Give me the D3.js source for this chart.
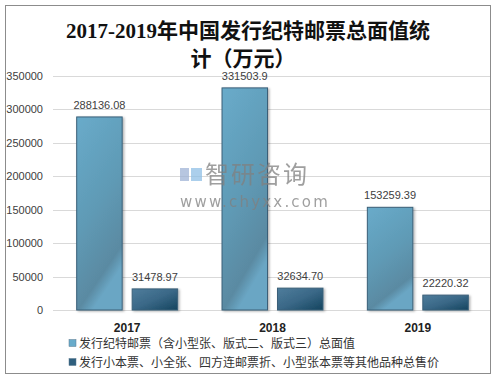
<!DOCTYPE html>
<html>
<head>
<meta charset="utf-8">
<script src="https://cdn.jsdelivr.net/npm/d3@7"></script>
<style>
  body { margin: 0; background: #fff; }
  svg { display: block; }
</style>
</head>
<body>
<svg width="496" height="378"></svg>
<script>
var years = ["2017", "2018", "2019"];
var seriesNames = [
  "发行纪特邮票（含小型张、版式二、版式三）总面值",
  "发行小本票、小全张、四方连邮票折、小型张本票等其他品种总售价"
];
var faceValue = [288136.08, 331503.9, 153259.39];
var otherValue = [31478.97, 32634.70, 22220.32];
var valueLabels = [["288136.08", "31478.97"], ["331503.9", "32634.70"], ["153259.39", "22220.32"]];
var yTicks = [0, 50000, 100000, 150000, 200000, 250000, 300000, 350000];

var svg = d3.select("svg");
var font = "'Liberation Sans', 'Noto Sans CJK SC', sans-serif";

// gradients + shadow
var defs = svg.append("defs");
var g1 = defs.append("linearGradient").attr("id", "gLight")
  .attr("x1", "0").attr("y1", "0").attr("x2", "0.35").attr("y2", "1");
g1.append("stop").attr("offset", "0").attr("stop-color", "#69abca");
g1.append("stop").attr("offset", "0.55").attr("stop-color", "#5f9ab5");
g1.append("stop").attr("offset", "0.9").attr("stop-color", "#5a8aa2");
g1.append("stop").attr("offset", "1").attr("stop-color", "#6aa6c4");
var g2 = defs.append("linearGradient").attr("id", "gDark")
  .attr("x1", "0").attr("y1", "0").attr("x2", "1").attr("y2", "1");
g2.append("stop").attr("offset", "0").attr("stop-color", "#4f7d9c");
g2.append("stop").attr("offset", "0.5").attr("stop-color", "#3a6887");
g2.append("stop").attr("offset", "1").attr("stop-color", "#14445e");
var f = defs.append("filter").attr("id", "shadow").attr("x", "-10%").attr("y", "-10%").attr("width", "130%").attr("height", "130%");
f.append("feDropShadow").attr("dx", 1.5).attr("dy", 1).attr("stdDeviation", 1.2)
  .attr("flood-color", "#000").attr("flood-opacity", 0.3);

// outer border
svg.append("rect").attr("x", 5.5).attr("y", 5.5).attr("width", 485).attr("height", 368)
  .attr("fill", "#fff").attr("stroke", "#8c8c8c").attr("stroke-width", 1);

// title
var title = svg.append("text")
  .attr("text-anchor", "middle")
  .attr("font-family", "'Liberation Serif', 'Noto Sans CJK SC', serif")
  .attr("font-weight", "bold").attr("font-size", 21).attr("fill", "#111");
title.append("tspan").attr("x", 248).attr("y", 38).text("2017-2019年中国发行纪特邮票总面值统");
title.append("tspan").attr("x", 243).attr("y", 66).text("计（万元）");

var x = d3.scaleBand().domain(years).range([54.5, 490.5]).paddingInner(0).paddingOuter(0);
var xs = d3.scaleBand().domain([0, 1]).range([0, x.bandwidth()]).paddingInner(0.18).paddingOuter(0.4);
var y = d3.scaleLinear().domain([0, 350000]).range([310, 75.5]);

// grid
svg.append("g").selectAll("line").data(yTicks).enter().append("line")
  .attr("x1", 53).attr("x2", 490)
  .attr("y1", function(d) { return Math.round(y(d)) + 0.5; })
  .attr("y2", function(d) { return Math.round(y(d)) + 0.5; })
  .attr("stroke", "#d9d9d9").attr("stroke-width", 1);

// y labels
svg.append("g").selectAll("text").data(yTicks).enter().append("text")
  .attr("x", 43).attr("y", function(d) { return y(d) + 4; })
  .attr("text-anchor", "end").attr("font-family", font).attr("font-size", 11)
  .attr("fill", "#404040").text(function(d) { return d; });

// bars
var data = years.map(function(yr, i) {
  return { year: yr, vals: [faceValue[i], otherValue[i]], labels: valueLabels[i] };
});
var groups = svg.append("g").selectAll("g").data(data).enter().append("g")
  .attr("transform", function(d) { return "translate(" + x(d.year) + ",0)"; });

var bars = groups.selectAll("g").data(function(d) {
  return d.vals.map(function(v, k) { return { k: k, v: v, label: d.labels[k] }; });
}).enter().append("g");

bars.append("rect")
  .attr("x", function(d) { return xs(d.k); })
  .attr("y", function(d) { return y(d.v); })
  .attr("width", xs.bandwidth())
  .attr("height", function(d) { return 310 - y(d.v); })
  .attr("fill", function(d) { return d.k === 0 ? "url(#gLight)" : "url(#gDark)"; })
  .attr("stroke", "#3b6079").attr("stroke-width", 1)
  .attr("filter", "url(#shadow)");

bars.append("text")
  .attr("x", function(d) { return xs(d.k) + xs.bandwidth() / 2; })
  .attr("y", function(d) { return y(d.v) - 8; })
  .attr("text-anchor", "middle").attr("font-family", font).attr("font-size", 11)
  .attr("fill", "#404040").text(function(d) { return d.label; });

// watermark (drawn over the bars)
var wm = svg.append("g").attr("opacity", 0.75);
wm.append("rect").attr("x", 180).attr("y", 168).attr("width", 9).attr("height", 13).attr("fill", "#9fb3d6");
wm.append("rect").attr("x", 191).attr("y", 168).attr("width", 11).attr("height", 13).attr("fill", "#8fc0e6");
wm.append("text").attr("x", 205).attr("y", 183).attr("font-family", "'Noto Sans CJK SC', sans-serif")
  .attr("font-size", 24).attr("fill", "#808080").attr("letter-spacing", 2).text("智研咨询");
wm.append("text").attr("x", 180).attr("y", 207).attr("font-family", "'DejaVu Sans', sans-serif")
  .attr("font-size", 15).attr("fill", "#808080").attr("letter-spacing", 2.2).text("www.chyxx.com");

// x labels
svg.append("g").selectAll("text").data(years).enter().append("text")
  .attr("x", function(d) { return x(d) + x.bandwidth() / 2; })
  .attr("y", 332).attr("text-anchor", "middle").attr("font-family", font)
  .attr("font-size", 12).attr("font-weight", "bold").attr("fill", "#222").text(function(d) { return d; });

// legend
var colors = ["#69abca", "#2f5f7e"];
var leg = svg.append("g").selectAll("g").data(seriesNames).enter().append("g")
  .attr("transform", function(d, i) { return "translate(69," + (343 + i * 19) + ")"; });
leg.append("rect").attr("x", 0).attr("y", -3.5).attr("width", 7).attr("height", 7)
  .attr("fill", function(d, i) { return colors[i]; }).attr("stroke", "#5a7a90").attr("stroke-width", 0.5);
leg.append("text").attr("x", 10).attr("y", 4.5).attr("font-family", "'Noto Sans CJK SC', sans-serif")
  .attr("font-size", 12).attr("fill", "#333").text(function(d) { return d; });
</script>
</body>
</html>
